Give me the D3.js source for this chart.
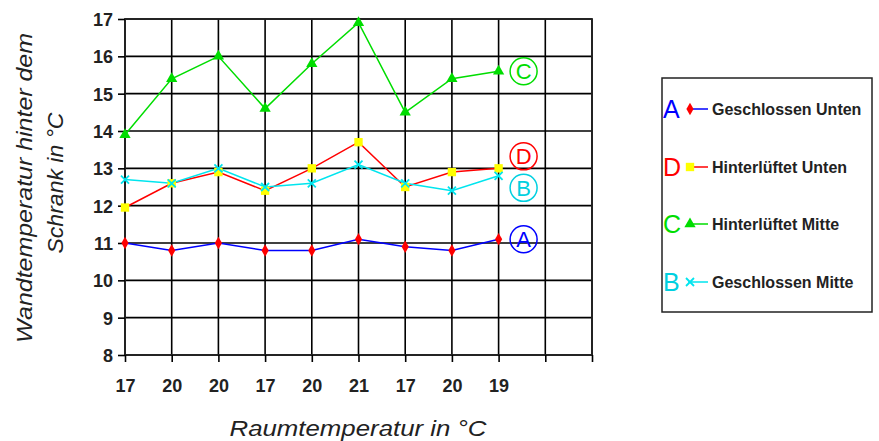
<!DOCTYPE html>
<html><head><meta charset="utf-8">
<script src="https://cdn.jsdelivr.net/npm/d3@7"></script>
<style>body{margin:0;background:#fff}svg{display:block}</style>
</head><body><svg id="c" width="879" height="441"></svg>
<script>
const categories = ["17","20","20","17","20","21","17","20","19","",""];
const seriesA = [11.0,10.8,11.0,10.8,10.8,11.1,10.9,10.8,11.1];
const seriesD = [11.95,12.6,12.9,12.4,13.0,13.7,12.5,12.9,13.0];
const seriesC = [13.9,15.4,16.0,14.6,15.8,16.9,14.5,15.4,15.6];
const seriesB = [12.7,12.6,13.0,12.5,12.6,13.1,12.6,12.4,12.8];
const yTicks = [8,9,10,11,12,13,14,15,16,17];
const seriesNames = ["Geschlossen Unten","Hinterlüftet Unten","Hinterlüftet Mitte","Geschlossen Mitte"];
const seriesLetters = ["A","D","C","B"];

const FONT = "Liberation Sans, Arial, sans-serif";
const svg = d3.select("#c");
const L=125, R=592, T=19, B=355;
const x = d3.scalePoint().domain(d3.range(categories.length)).range([L,R]);
const y = d3.scaleLinear().domain([8,17]).range([B,T]);

// grid
const g = svg.append("g");
g.selectAll(".hg").data(yTicks).join("line")
 .attr("x1",L).attr("x2",R).attr("y1",d=>y(d)).attr("y2",d=>y(d))
 .attr("stroke","#000").attr("stroke-width",1.6);
g.selectAll(".vg").data(d3.range(categories.length)).join("line")
 .attr("x1",d=>x(d)).attr("x2",d=>x(d)).attr("y1",T).attr("y2",B)
 .attr("stroke","#000").attr("stroke-width",1.6);
g.append("rect").attr("x",L).attr("y",T).attr("width",R-L).attr("height",B-T)
 .attr("fill","none").attr("stroke","#222").attr("stroke-width",1.8);

// axes
const yAxis = svg.append("g").attr("transform",`translate(${L},0)`)
 .call(d3.axisLeft(y).tickValues(yTicks).tickSize(7).tickPadding(5).tickFormat(d3.format("d")));
const xAxis = svg.append("g").attr("transform",`translate(0,${B})`)
 .call(d3.axisBottom(x).tickSize(7).tickPadding(17).tickFormat(i=>categories[i]));
[yAxis,xAxis].forEach(a=>{
  a.select(".domain").remove();
  a.selectAll("line").attr("stroke","#000").attr("stroke-width",1.6);
  a.selectAll("text").attr("font-family",FONT)
   .attr("font-size",18).attr("font-weight","bold").attr("fill","#222");
});
yAxis.selectAll("text").attr("dy","0.36em");

// titles
svg.append("text").attr("transform","translate(32,188) rotate(-90)")
 .attr("text-anchor","middle").attr("font-family",FONT)
 .attr("font-style","italic").attr("font-size",22).attr("fill","#222")
 .attr("textLength",310).attr("lengthAdjust","spacingAndGlyphs")
 .text("Wandtemperatur hinter dem");
svg.append("text").attr("transform","translate(63,183) rotate(-90)")
 .attr("text-anchor","middle").attr("font-family",FONT)
 .attr("font-style","italic").attr("font-size",22).attr("fill","#222")
 .attr("textLength",141).attr("lengthAdjust","spacingAndGlyphs")
 .text("Schrank in °C");
svg.append("text").attr("x",358).attr("y",436)
 .attr("text-anchor","middle").attr("font-family",FONT)
 .attr("font-style","italic").attr("font-size",22).attr("fill","#222")
 .attr("textLength",257).attr("lengthAdjust","spacingAndGlyphs")
 .text("Raumtemperatur in °C");

const series = [
 {vals:seriesA, line:"#0000ff", mark:"#ff0000", sym:d3.symbolDiamond, size:45, letterColor:"#0000ff"},
 {vals:seriesD, line:"#ff0000", mark:"#ffff00", sym:d3.symbolSquare, size:70, letterColor:"#ff0000"},
 {vals:seriesC, line:"#00dd00", mark:"#00dd00", sym:d3.symbolTriangle, size:55, letterColor:"#00dd00"},
 {vals:seriesB, line:"#00e5ee", mark:"#00e5ee", sym:"x", size:50, letterColor:"#00d0e0"}
];
const line = d3.line().x((d,i)=>x(i)).y(d=>y(d));
const drawOrder = [2,0,1,3];
drawOrder.forEach(k=>{
  const s = series[k];
  svg.append("path").datum(s.vals).attr("d",line).attr("fill","none")
   .attr("stroke",s.line).attr("stroke-width",1.5);
});
function marker(sel, s, cx, cy){
  if(s.sym==="x"){
    sel.append("path").attr("d",`M${cx-4},${cy-4}L${cx+4},${cy+4}M${cx-4},${cy+4}L${cx+4},${cy-4}`)
     .attr("stroke",s.mark).attr("stroke-width",1.8);
  } else {
    sel.append("path").attr("d",d3.symbol().type(s.sym).size(s.size)())
     .attr("transform",`translate(${cx},${cy})`).attr("fill",s.mark);
  }
}
drawOrder.forEach(k=>{
  const s = series[k];
  s.vals.forEach((v,i)=>marker(svg,s,x(i),y(v)));
});

// circled end labels
series.forEach((s,k)=>{
  const last = s.vals.length-1;
  let cy = y(s.vals[last]);
  const cx = x(last)+25;
  if(k===1) cy -= 12; if(k===3) cy += 12;
  svg.append("circle").attr("cx",cx).attr("cy",cy).attr("r",13.5)
   .attr("fill","none").attr("stroke",s.letterColor).attr("stroke-width",1.5);
  svg.append("text").attr("x",cx).attr("y",cy+8).attr("text-anchor","middle")
   .attr("font-family",FONT).attr("font-size",22)
   .attr("fill",s.letterColor).text(seriesLetters[k]);
});

// legend
const lg = svg.append("g");
lg.append("rect").attr("x",662).attr("y",78).attr("width",210).attr("height",234)
 .attr("fill","none").attr("stroke","#222").attr("stroke-width",1.5);
const ly = [109,167,224,282];
series.forEach((s,k)=>{
  const yy = ly[k];
  lg.append("text").attr("x",663).attr("y",yy+9).attr("font-family",FONT)
   .attr("font-size",25).attr("fill",s.letterColor).text(seriesLetters[k]);
  lg.append("line").attr("x1",688).attr("x2",708).attr("y1",yy).attr("y2",yy)
   .attr("stroke",s.line).attr("stroke-width",1.5);
  marker(lg,s,690,yy);
  lg.append("text").attr("x",712).attr("y",yy+6).attr("font-family",FONT)
   .attr("font-size",16).attr("font-weight","bold").attr("fill","#222").text(seriesNames[k]);
});
</script></body></html>
